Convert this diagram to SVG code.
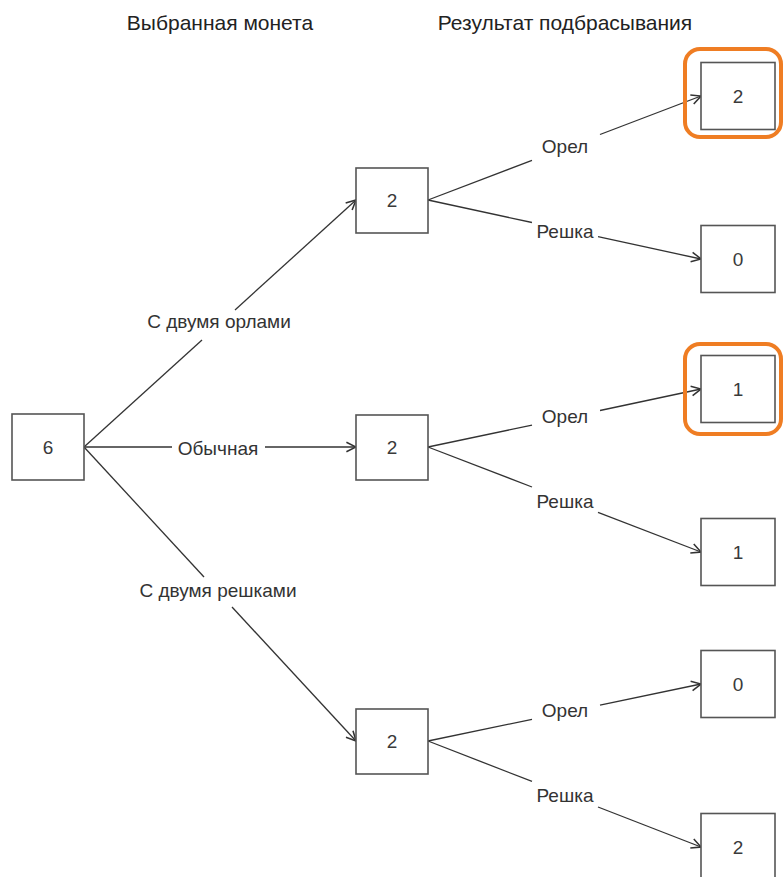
<svg xmlns="http://www.w3.org/2000/svg" width="784" height="877" viewBox="0 0 784 877">
<defs>
<marker id="arr" markerUnits="userSpaceOnUse" markerWidth="12" markerHeight="12" viewBox="0 0 10 10" refX="9" refY="5" orient="auto">
<path d="M1,1 L9,5 L1,9" fill="none" stroke="#333" stroke-width="1.3"/>
</marker>
<style>
.box{fill:#fff;stroke:#555;stroke-width:1.6}
.hl{fill:none;stroke:#EF7D23;stroke-width:4}
.num{font-family:"Liberation Sans",Arial,sans-serif;font-size:19px;fill:#3a3a3a;text-anchor:middle}
.lbl{font-family:"Liberation Sans",Arial,sans-serif;font-size:19px;fill:#333;text-anchor:middle}
.hdr{font-family:"Liberation Sans",Arial,sans-serif;font-size:21px;fill:#222;text-anchor:middle}
.ln{fill:none;stroke:#333;stroke-width:1.3}
</style>
</defs>
<rect width="784" height="877" fill="#fff"/>
<g id="headers">
<text class="hdr" x="220" y="30">Выбранная монета</text>
<text class="hdr" x="565" y="30">Результат подбрасывания</text>
</g>
<g id="connectors">
<line class="ln" x1="84" y1="447" x2="202" y2="340"/>
<line class="ln" x1="235" y1="310" x2="356" y2="200" marker-end="url(#arr)"/>
<line class="ln" x1="84" y1="447" x2="172" y2="447"/>
<line class="ln" x1="265" y1="447" x2="356" y2="447" marker-end="url(#arr)"/>
<line class="ln" x1="84" y1="447" x2="204" y2="577"/>
<line class="ln" x1="232" y1="607" x2="356" y2="741" marker-end="url(#arr)"/>
<line class="ln" x1="428" y1="200" x2="532" y2="160.4"/>
<line class="ln" x1="600" y1="134.5" x2="701" y2="96" marker-end="url(#arr)"/>
<line class="ln" x1="428" y1="200" x2="532" y2="222.5"/>
<line class="ln" x1="598" y1="236.7" x2="701" y2="259" marker-end="url(#arr)"/>
<line class="ln" x1="428" y1="447" x2="532" y2="425.1"/>
<line class="ln" x1="600" y1="410.5" x2="701" y2="389" marker-end="url(#arr)"/>
<line class="ln" x1="428" y1="447" x2="532" y2="487"/>
<line class="ln" x1="598" y1="512.4" x2="701" y2="552" marker-end="url(#arr)"/>
<line class="ln" x1="428" y1="741" x2="532" y2="719.3"/>
<line class="ln" x1="600" y1="705.1" x2="701" y2="684" marker-end="url(#arr)"/>
<line class="ln" x1="428" y1="741" x2="532" y2="781.4"/>
<line class="ln" x1="598" y1="807" x2="701" y2="847" marker-end="url(#arr)"/>
<text class="lbl" x="219" y="328">С двумя орлами</text>
<text class="lbl" x="218" y="455">Обычная</text>
<text class="lbl" x="218" y="597">С двумя решками</text>
<text class="lbl" x="565" y="153">Орел</text>
<text class="lbl" x="565" y="238">Решка</text>
<text class="lbl" x="565" y="423">Орел</text>
<text class="lbl" x="565" y="508">Решка</text>
<text class="lbl" x="565" y="717">Орел</text>
<text class="lbl" x="565" y="802">Решка</text>
</g>
<g id="root"><rect class="box" x="12" y="414" width="72" height="66"/><text class="num" x="48" y="454">6</text></g>
<g id="coin-heads"><rect class="box" x="356" y="168" width="72" height="65"/><text class="num" x="392" y="207">2</text></g>
<g id="coin-normal"><rect class="box" x="356" y="415" width="72" height="65"/><text class="num" x="392" y="454">2</text></g>
<g id="coin-tails"><rect class="box" x="356" y="709" width="72" height="65"/><text class="num" x="392" y="748">2</text></g>
<g id="leaf1"><rect class="box" x="701" y="62.5" width="74" height="67"/><text class="num" x="738" y="103">2</text><rect class="hl" x="685" y="49" width="96" height="88" rx="15"/></g>
<g id="leaf2"><rect class="box" x="701" y="225.5" width="74" height="67"/><text class="num" x="738" y="266">0</text></g>
<g id="leaf3"><rect class="box" x="701" y="355.5" width="74" height="67"/><text class="num" x="738" y="396">1</text><rect class="hl" x="685" y="344" width="96" height="90" rx="15"/></g>
<g id="leaf4"><rect class="box" x="701" y="518.5" width="74" height="67"/><text class="num" x="738" y="559">1</text></g>
<g id="leaf5"><rect class="box" x="701" y="650.5" width="74" height="67"/><text class="num" x="738" y="691">0</text></g>
<g id="leaf6"><rect class="box" x="701" y="813.5" width="74" height="67"/><text class="num" x="738" y="854">2</text></g>
</svg>
